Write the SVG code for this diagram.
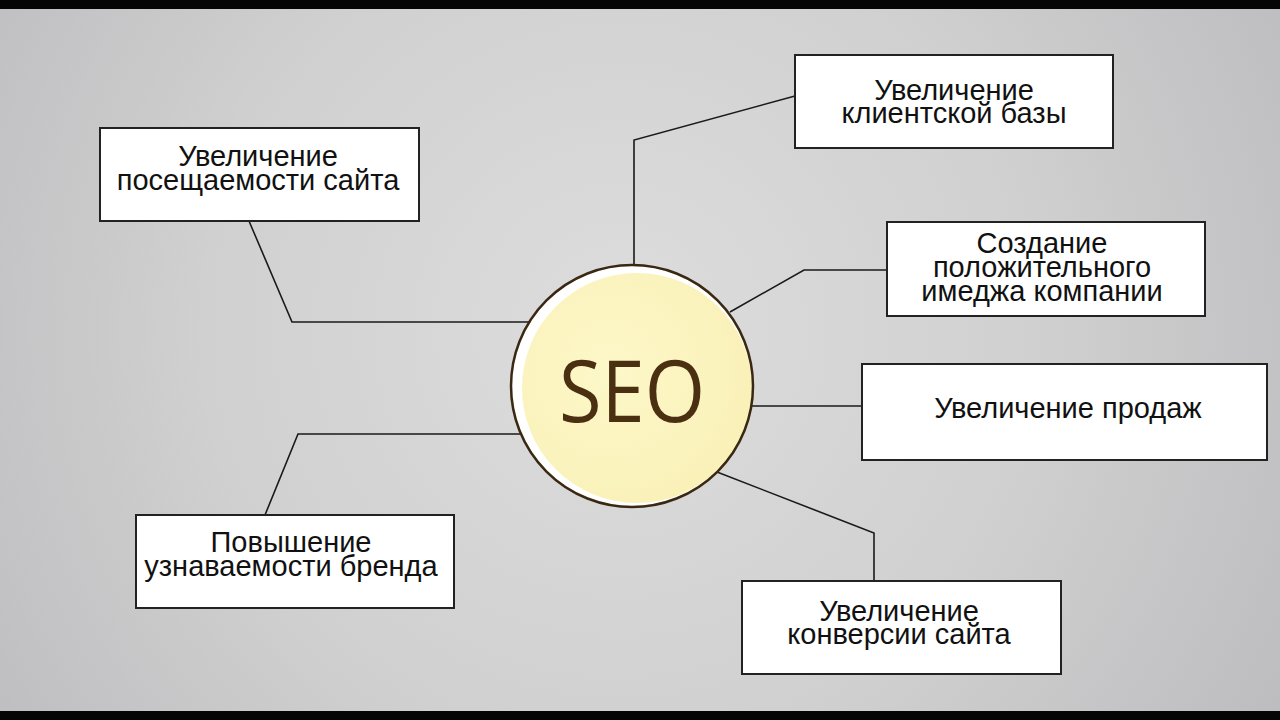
<svg xmlns="http://www.w3.org/2000/svg" width="1280" height="720" viewBox="0 0 1280 720">
  <defs>
    <radialGradient id="bg" cx="620" cy="330" r="760" gradientUnits="userSpaceOnUse">
      <stop offset="0" stop-color="#DDDDDD"/>
      <stop offset="0.55" stop-color="#D0D0D0"/>
      <stop offset="1" stop-color="#BDBCBF"/>
    </radialGradient>
    <radialGradient id="seoFill" cx="610" cy="370" r="140" gradientUnits="userSpaceOnUse">
      <stop offset="0" stop-color="#FDF8C9"/>
      <stop offset="1" stop-color="#FAF1B9"/>
    </radialGradient>
    <clipPath id="circleClip">
      <circle cx="632" cy="386" r="120"/>
    </clipPath>
  </defs>
  <style>
    .box { fill: #FFFFFF; stroke: #222222; stroke-width: 2; }
    .label { font-family: "Liberation Sans", Arial, sans-serif; font-size: 29px; fill: #111111; text-anchor: middle; }
    .conn { fill: none; stroke: #1A1A1A; stroke-width: 1.6; }
  </style>

  <rect x="0" y="0" width="1280" height="720" fill="url(#bg)"/>
  <rect x="0" y="0" width="1280" height="9" fill="#050505"/>
  <rect x="0" y="711" width="1280" height="9" fill="#050505"/>

  <g id="connectors">
    <polyline class="conn" points="249,221 292,322 531,322"/>
    <polyline class="conn" points="795,96 634,140 634,265"/>
    <polyline class="conn" points="887,270 804,270 730,312"/>
    <polyline class="conn" points="752,406 862,406"/>
    <polyline class="conn" points="717,472 874,533 874,581"/>
    <polyline class="conn" points="265,515 298,434 521,434"/>
  </g>

  <g id="seo">
    <circle cx="632" cy="386" r="120" fill="#FFFFFF"/>
    <g clip-path="url(#circleClip)">
      <circle cx="637" cy="388" r="115" fill="url(#seoFill)"/>
    </g>
    <circle cx="632" cy="386" r="121" fill="none" stroke="#3A2812" stroke-width="2.5"/>
    <text x="632" y="422" font-family="'Open Sans', 'Noto Sans', sans-serif" font-size="86" fill="#4A3010" text-anchor="middle" textLength="146" lengthAdjust="spacingAndGlyphs">SEO</text>
  </g>

  <g id="node-traffic">
    <rect class="box" x="100" y="128" width="319" height="93"/>
    <text class="label" x="258" y="166">Увеличение</text>
    <text class="label" x="258" y="190">посещаемости сайта</text>
  </g>

  <g id="node-clients">
    <rect class="box" x="795" y="55" width="318" height="93"/>
    <text class="label" x="954" y="100">Увеличение</text>
    <text class="label" x="954" y="123">клиентской базы</text>
  </g>

  <g id="node-image">
    <rect class="box" x="887" y="222" width="318" height="94"/>
    <text class="label" x="1042" y="253">Создание</text>
    <text class="label" x="1042" y="277">положительного</text>
    <text class="label" x="1042" y="301">имеджа компании</text>
  </g>

  <g id="node-sales">
    <rect class="box" x="862" y="364" width="405" height="96"/>
    <text class="label" x="1068" y="418">Увеличение продаж</text>
  </g>

  <g id="node-conversion">
    <rect class="box" x="742" y="581" width="319" height="93"/>
    <text class="label" x="899" y="621">Увеличение</text>
    <text class="label" x="899" y="644">конверсии сайта</text>
  </g>

  <g id="node-brand">
    <rect class="box" x="136" y="515" width="318" height="93"/>
    <text class="label" x="291" y="552">Повышение</text>
    <text class="label" x="291" y="576">узнаваемости бренда</text>
  </g>
</svg>
